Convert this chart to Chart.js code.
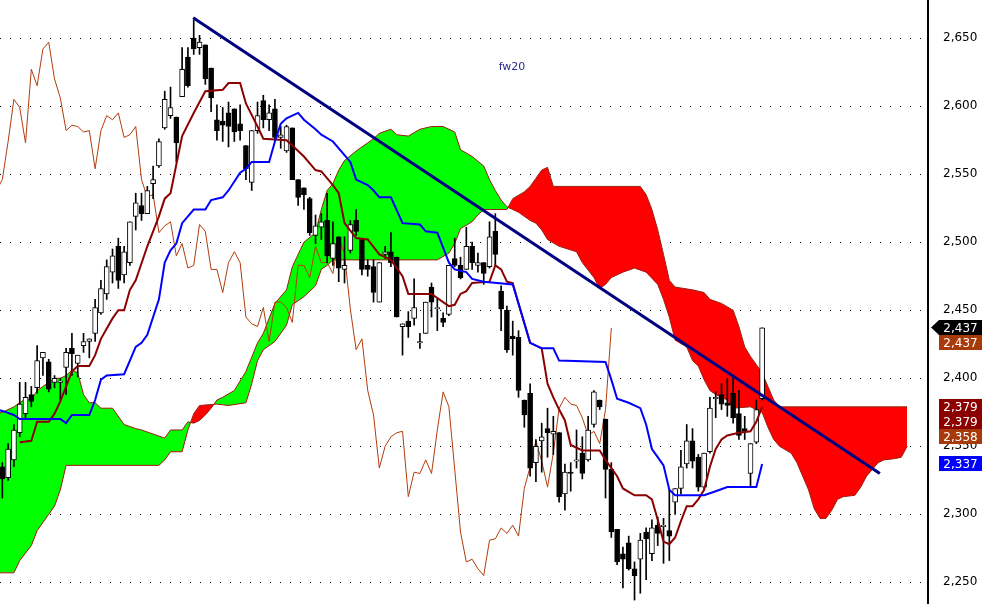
<!DOCTYPE html>
<html>
<head>
<meta charset="utf-8">
<script src="https://cdn.jsdelivr.net/npm/chart.js@4.4.0/dist/chart.umd.min.js"></script>
<style>
  html, body { margin: 0; padding: 0; background: #fff; }
  canvas { display: block; }
</style>
</head>
<body>
<canvas id="ichimokuChart" width="989" height="604"></canvas>
<script>
// candles, one per bar (bar index = position in array)
const openP = [2335,2327,2340,2360,2374,2388,2393,2415,2412,2397,
  2397,2408,2422,2411,2424,2427,2433,2448,2462,2478,
  2497,2476,2485,2519,2527,2521,2543,2556,2584,2593,
  2592,2607,2636,2650,2643,2645,2628,2590,2589,2595,
  2598,2587,2571,2544,2582,2604,2590,2598,2577,2567,
  2584,2546,2540,2532,2505,2511,2516,2488,2504,2480,
  2494,2516,2502,2483,2482,2456,2491,2493,2489,2438,
  2442,2444,2426,2433,2467,2451,2444,2447,2488,2483,
  2480,2497,2483,2485,2482,2508,2464,2450,2431,2430,
  2384,2389,2338,2354,2363,2359,2360,2315,2331,2339,
  2345,2340,2366,2384,2370,2333,2289,2271,2279,2260,
  2267,2287,2271,2292,2291,2288,2309,2319,2337,2354,
  2342,2320,2346,2385,2388,2382,2389,2374,2363,2330,
  2353,2385];
const highP = [2338,2352,2366,2397,2397,2394,2424,2419,2414,2402,
  2400,2422,2433,2417,2433,2429,2458,2472,2487,2495,
  2503,2497,2515,2536,2536,2541,2556,2576,2611,2614,
  2592,2643,2643,2663,2652,2645,2628,2601,2599,2603,
  2598,2601,2571,2582,2603,2608,2601,2605,2585,2586,
  2584,2546,2540,2533,2520,2521,2536,2515,2504,2504,
  2516,2524,2502,2487,2487,2485,2497,2507,2489,2440,
  2449,2473,2433,2456,2470,2458,2448,2483,2503,2489,
  2511,2500,2492,2485,2515,2521,2468,2453,2442,2435,
  2384,2396,2355,2367,2378,2372,2360,2337,2338,2362,
  2357,2372,2391,2384,2370,2338,2289,2276,2284,2265,
  2286,2290,2296,2298,2297,2318,2319,2347,2366,2363,
  2344,2345,2386,2390,2396,2400,2402,2391,2372,2352,
  2384,2437];
const lowP = [2312,2325,2335,2357,2371,2379,2389,2402,2390,2393,
  2384,2388,2402,2401,2419,2415,2427,2447,2458,2470,
  2466,2470,2483,2509,2516,2521,2532,2555,2583,2591,
  2559,2607,2614,2638,2638,2616,2596,2575,2574,2570,
  2574,2575,2546,2538,2580,2584,2582,2575,2569,2566,
  2546,2527,2524,2505,2499,2502,2485,2483,2471,2470,
  2492,2505,2476,2475,2456,2456,2488,2482,2445,2417,
  2430,2439,2422,2433,2445,2435,2438,2446,2482,2473,
  2480,2480,2478,2469,2481,2482,2435,2419,2417,2386,
  2364,2328,2324,2331,2342,2344,2309,2303,2317,2334,
  2326,2339,2364,2377,2312,2283,2263,2246,2259,2237,
  2242,2252,2266,2277,2264,2266,2300,2315,2334,2334,
  2317,2318,2345,2371,2377,2372,2367,2355,2355,2321,
  2352,2384];
const closeP = [2326,2348,2362,2381,2386,2383,2413,2419,2392,2400,
  2398,2419,2418,2417,2427,2429,2452,2466,2482,2490,
  2472,2493,2515,2529,2521,2538,2546,2574,2605,2599,
  2573,2627,2615,2642,2647,2620,2606,2582,2586,2585,
  2581,2582,2554,2582,2593,2590,2595,2577,2579,2585,
  2546,2533,2535,2507,2512,2515,2490,2499,2481,2483,
  2513,2508,2480,2480,2463,2485,2493,2485,2445,2440,
  2438,2452,2427,2456,2456,2452,2441,2483,2483,2474,
  2497,2485,2485,2477,2504,2491,2451,2421,2429,2391,
  2373,2334,2350,2357,2360,2361,2313,2331,2330,2340,
  2330,2362,2390,2379,2333,2287,2265,2267,2260,2255,
  2281,2282,2290,2286,2292,2284,2319,2335,2354,2339,
  2320,2345,2378,2386,2381,2380,2371,2358,2361,2352,
  2377,2437];

// lagging line, starts one bar left of the first candle
const chikouStart = -1;
const chikou = [2538,2546,2574,2605,2599,
  2573,2627,2615,2642,2647,2620,2606,2582,2586,2585,
  2581,2582,2554,2582,2593,2590,2595,2577,2579,2585,
  2546,2533,2535,2507,2512,2515,2490,2499,2481,2483,
  2513,2508,2480,2480,2463,2485,2493,2485,2445,2440,
  2438,2452,2427,2456,2456,2452,2441,2483,2483,2474,
  2497,2485,2485,2477,2504,2491,2451,2421,2429,2391,
  2373,2334,2350,2357,2360,2361,2313,2331,2330,2340,
  2330,2362,2390,2379,2333,2287,2265,2267,2260,2255,
  2281,2282,2290,2286,2292,2284,2319,2335,2354,2339,
  2320,2345,2378,2386,2381,2380,2371,2358,2361,2352,
  2377,2437];

// [bar, value] break points of the stepped lines
const tenkan = [[3,2353],[5,2354],[6,2368],[8,2368],[9,2374],[10,2383],[11,2394],[12,2405],[13,2409],[15,2409],
  [16,2417],[17,2429],[19,2444],[20,2450],[21,2450],[22,2465],[23,2472],[25,2497],[27,2519],[28,2532],
  [29,2536],[31,2578],[33,2595],[35,2611],[38,2612],[39,2617],[41,2617],[42,2602],[44,2585],[45,2576],
  [49,2575],[50,2571],[52,2563],[54,2553],[55,2552],[57,2542],[58,2536],[59,2514],[61,2503],[63,2502],
  [65,2491],[66,2489],[67,2487],[69,2475],[70,2462],[74,2462],[76,2456],[77,2453],[78,2454],[79,2462],
  [80,2464],[81,2470],[84,2471],[85,2483],[86,2480],[87,2471],[88,2470],[89,2455],[91,2426],[93,2422],
  [94,2396],[95,2386],[96,2377],[97,2369],[98,2351],[100,2347],[103,2347],[104,2340],[106,2328],[107,2319],
  [109,2314],[111,2314],[112,2311],[113,2296],[114,2280],[115,2278],[116,2283],[117,2295],[118,2306],[119,2306],
  [120,2311],[121,2318],[122,2335],[123,2348],[124,2355],[125,2358],[127,2360],[129,2361],[130,2368],[131,2379]];
const kijun = [[-1,2377],[0,2376],[2,2373],[3,2370],[10,2370],[11,2367],[12,2373],[15,2373],[16,2384],[17,2399],
  [18,2402],[21,2403],[23,2423],[24,2426],[25,2432],[27,2458],[28,2485],[29,2494],[30,2499],[31,2514],
  [33,2524],[35,2524],[36,2531],[38,2533],[39,2538],[41,2551],[42,2554],[43,2559],[46,2559],[47,2574],
  [48,2587],[49,2591],[51,2595],[52,2590],[54,2583],[55,2579],[57,2574],[59,2564],[60,2559],[61,2546],
  [63,2542],[64,2538],[65,2533],[67,2533],[69,2514],[72,2513],[73,2508],[75,2507],[76,2496],[77,2485],
  [78,2480],[80,2478],[81,2473],[83,2471],[88,2469],[89,2455],[91,2426],[93,2422],[95,2422],[96,2413],
  [104,2412],[105,2399],[106,2385],[108,2382],[110,2378],[111,2366],[112,2348],[113,2342],[114,2336],[115,2318],
  [116,2314],[121,2314],[123,2317],[125,2320],[130,2320],[131,2337]];
const senkouA = [[-1,2374],[0,2375],[2,2379],[4,2385],[5,2384],[6,2391],[7,2394],[9,2400],[10,2400],[11,2402],
  [12,2406],[13,2404],[14,2388],[15,2382],[16,2382],[17,2378],[19,2378],[21,2366],[23,2363],[24,2362],
  [28,2356],[29,2362],[31,2362],[32,2368],[33,2367],[34,2369],[35,2373],[36,2378],[37,2384],[38,2386],
  [40,2391],[42,2405],[44,2426],[45,2433],[47,2455],[49,2465],[50,2482],[52,2500],[54,2507],[55,2524],
  [56,2538],[57,2543],[58,2553],[59,2560],[61,2567],[63,2573],[64,2576],[65,2580],[67,2583],[68,2579],
  [70,2578],[72,2583],[74,2585],[76,2585],[78,2581],[79,2568],[81,2563],[83,2556],[84,2546],[85,2538],
  [86,2531],[87,2526],[88,2524],[89,2522],[91,2516],[92,2514],[93,2509],[94,2502],[96,2497],[99,2493],
  [100,2485],[102,2474],[103,2466],[104,2469],[105,2474],[107,2478],[109,2481],[111,2478],[113,2469],[114,2458],
  [115,2445],[116,2428],[118,2423],[119,2413],[120,2409],[121,2399],[122,2391],[123,2388],[125,2384],[126,2378],
  [129,2379],[131,2375],[132,2364],[133,2355],[134,2350],[136,2345],[137,2338],[138,2328],[139,2318],[140,2304],
  [141,2297],[142,2297],[143,2303],[144,2311],[145,2313],[147,2314],[148,2320],[149,2328],[151,2338],[152,2340],
  [154,2341],[155,2342],[156,2350]];
const senkouB = [[-1,2257],[0,2257],[2,2257],[3,2266],[5,2277],[6,2288],[8,2300],[9,2306],[10,2318],[11,2336],
  [27,2336],[28,2340],[29,2346],[31,2346],[32,2362],[33,2374],[34,2380],[37,2381],[39,2380],[42,2382],
  [43,2396],[44,2413],[45,2421],[47,2427],[49,2439],[50,2454],[52,2460],[54,2468],[55,2480],[56,2483],
  [57,2487],[75,2487],[77,2492],[78,2499],[79,2510],[81,2515],[82,2520],[83,2524],[87,2524],[88,2532],
  [90,2537],[91,2541],[92,2547],[93,2553],[94,2555],[95,2541],[110,2541],[111,2535],[112,2524],[113,2509],
  [114,2491],[115,2472],[116,2467],[119,2465],[121,2463],[122,2458],[124,2455],[126,2450],[127,2438],[128,2423],
  [129,2416],[131,2404],[132,2394],[133,2384],[134,2379],[156,2379]];

// hand drawn trend line
const trendLine = [[32.9,2665],[151.3,2330]];

// value boxes at the right edge
const sideValues = [2437, 2437, 2379, 2379, 2358, 2337];
const sideColors = ["#000000", "#a83a0a", "#8b0000", "#8b0000", "#a83a0a", "#0000ff"];

const chartTitle = "fw20";

const toXY = pts => pts.map(p => ({ x: p[0], y: p[1] }));
const wicks = openP.map((_, i) => ({ x: i, y: [lowP[i], highP[i]] }));
const bodies = openP.map((o, i) => ({ x: i, y: [o, closeP[i]] }));
const bodyFill = openP.map((o, i) => (closeP[i] >= o ? "#ffffff" : "#000000"));
const chikouData = chikou.map((v, k) => ({ x: chikouStart + k, y: v }));

const labelsPlugin = {
  id: "labelsPlugin",
  afterDraw(chart) {
    const c = chart.ctx;
    const ys = chart.scales.y;
    const left = chart.chartArea.right + 11;
    const w = 43, h = 15;
    c.save();
    // title
    c.font = "11px 'DejaVu Sans', sans-serif";
    c.fillStyle = "#2b2b8c";
    c.textAlign = "center";
    c.textBaseline = "middle";
    c.fillText(chartTitle, 512, 67);
    // value boxes
    c.font = "12px 'DejaVu Sans', sans-serif";
    let prevBottom = -1000;
    sideValues.forEach((v, k) => {
      const cy = ys.getPixelForValue(v);
      const top = Math.max(Math.round(cy - h / 2), prevBottom);
      c.fillStyle = sideColors[k];
      c.fillRect(left, top, w, h);
      if (k === 0) {
        c.beginPath();
        c.moveTo(left, top);
        c.lineTo(left - 8, top + h / 2);
        c.lineTo(left, top + h);
        c.closePath();
        c.fill();
      }
      c.fillStyle = "#ffffff";
      c.fillText(v.toLocaleString("en-US"), left + w / 2, top + h / 2 + 1);
      prevBottom = top + h;
    });
    c.restore();
  }
};

const cloudEdge = "#9b1c10";

new Chart(document.getElementById("ichimokuChart").getContext("2d"), {
  type: "bar",
  data: {
    datasets: [
      {
        type: "line", label: "Senkou A", data: toXY(senkouA),
        borderColor: cloudEdge, borderWidth: 1, pointRadius: 0, tension: 0,
        fill: { target: 1, above: "#00ff00", below: "#ff0000" }, order: 10
      },
      {
        type: "line", label: "Senkou B", data: toXY(senkouB),
        borderColor: cloudEdge, borderWidth: 1, pointRadius: 0, tension: 0,
        fill: false, order: 9
      },
      {
        type: "line", label: "Chikou", data: chikouData,
        borderColor: "#b23c0c", borderWidth: 1, pointRadius: 0, tension: 0,
        fill: false, order: 8
      },
      {
        label: "Wick", data: wicks, backgroundColor: "#000000",
        barThickness: 1, grouped: false, borderWidth: 0, order: 6
      },
      {
        label: "Body", data: bodies, backgroundColor: bodyFill,
        borderColor: "#000000", borderWidth: 1, borderSkipped: false,
        barThickness: 5, grouped: false, order: 5
      },
      {
        type: "line", label: "Tenkan", data: toXY(tenkan),
        borderColor: "#8b0000", borderWidth: 2, pointRadius: 0, tension: 0,
        fill: false, order: 3
      },
      {
        type: "line", label: "Kijun", data: toXY(kijun),
        borderColor: "#0000ff", borderWidth: 2, pointRadius: 0, tension: 0,
        fill: false, order: 2
      },
      {
        type: "line", label: "Trend", data: toXY(trendLine),
        borderColor: "#000080", borderWidth: 3, pointRadius: 0, tension: 0,
        fill: false, order: 1
      }
    ]
  },
  options: {
    responsive: false,
    animation: false,
    events: [],
    layout: { padding: 0 },
    plugins: {
      legend: { display: false },
      tooltip: { enabled: false }
    },
    scales: {
      x: { type: "linear", min: -0.4, max: 159.6, offset: false, display: false },
      y: {
        position: "right",
        min: 2234.1,
        max: 2678,
        afterFit(scale) {
          scale.width = 61;
          scale.paddingTop = 0;
          scale.paddingBottom = 0;
        },
        ticks: {
          stepSize: 50,
          includeBounds: false,
          padding: 15,
          color: "#000000",
          font: { family: "'DejaVu Sans', sans-serif", size: 12 }
        },
        grid: { color: "#000000", lineWidth: 1, drawTicks: false },
        border: { display: true, color: "#000000", width: 2, dash: [1, 9] }
      }
    }
  },
  plugins: [labelsPlugin]
});
</script>
</body>
</html>
